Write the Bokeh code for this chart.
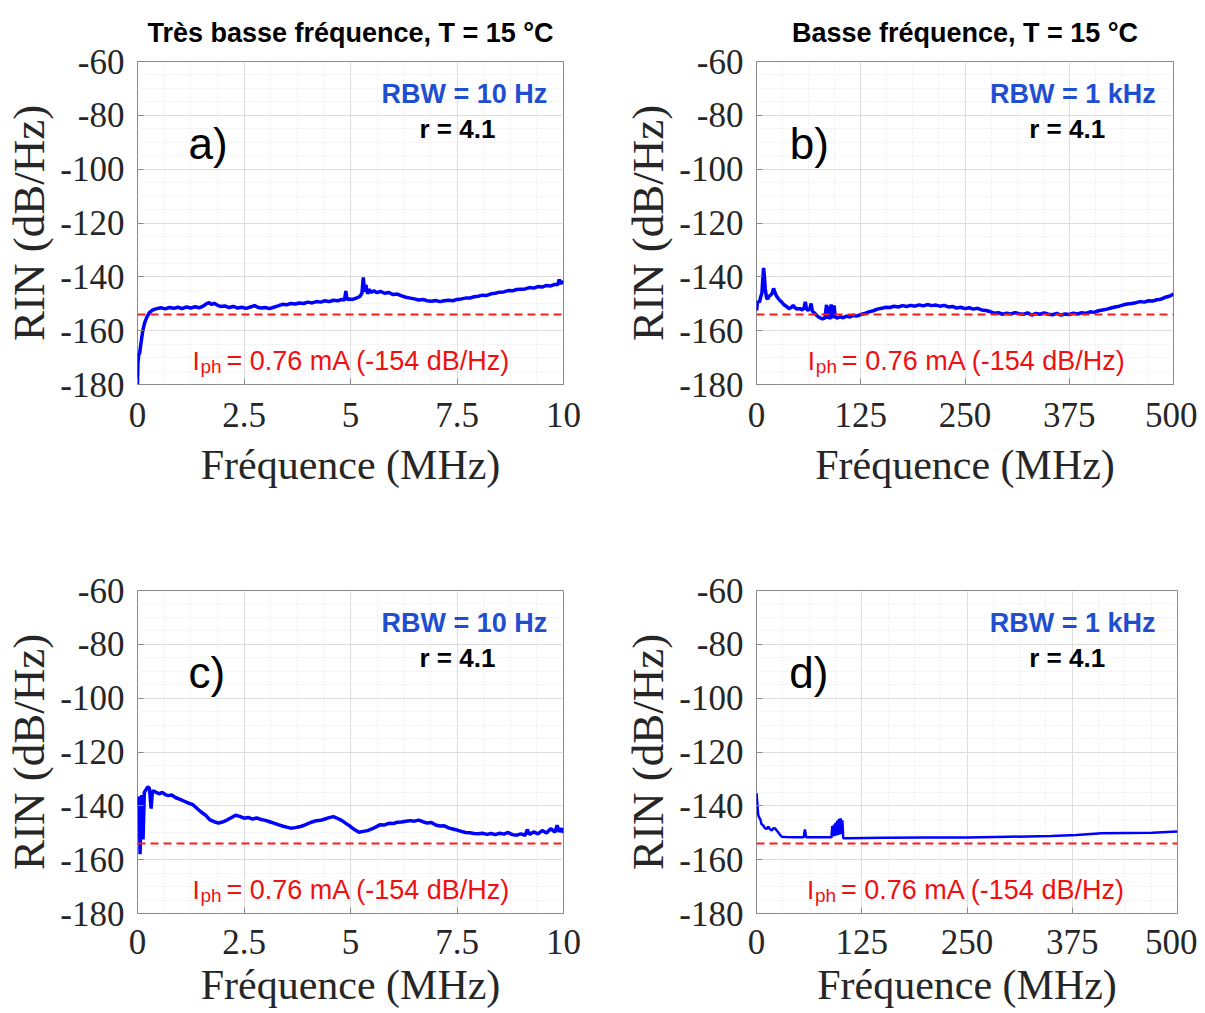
from bokeh.plotting import figure
from bokeh.layouts import column, row
from bokeh.models import FixedTicker, Label, Span
from bokeh.embed import file_html
from bokeh.resources import INLINE

# ---------------- data ----------------
freq_a = [0, 0.01, 0.03, 0.05, 0.07, 0.1, 0.13, 0.17, 0.22, 0.28, 0.35, 0.45, 0.55, 0.65, 0.75, 0.85, 0.95,
          1.05, 1.15, 1.25, 1.35, 1.45, 1.55, 1.62, 1.68, 1.74, 1.8, 1.88, 1.95, 2.05, 2.15, 2.25, 2.35, 2.45,
          2.55, 2.65, 2.75, 2.82, 2.9, 3.0, 3.1, 3.2, 3.3, 3.4, 3.5, 3.6, 3.7, 3.8, 3.9, 4.0, 4.1, 4.2, 4.3,
          4.4, 4.5, 4.6, 4.7, 4.8, 4.86, 4.89, 4.92, 4.96, 5.05, 5.15, 5.22, 5.27, 5.3, 5.33, 5.36, 5.4, 5.44,
          5.48, 5.55, 5.62, 5.7, 5.8, 5.9, 6.0, 6.1, 6.2, 6.3, 6.4, 6.5, 6.6, 6.7, 6.8, 6.9, 7.0, 7.1, 7.2,
          7.3, 7.4, 7.5, 7.6, 7.7, 7.8, 7.9, 8.0, 8.1, 8.2, 8.3, 8.4, 8.5, 8.6, 8.7, 8.8, 8.9, 9.0, 9.1, 9.2,
          9.3, 9.4, 9.5, 9.6, 9.7, 9.8, 9.86, 9.9, 9.94, 9.97, 10.0]
rin_a = [-180, -172, -168.8, -168.5, -166, -162.5, -159.5, -157, -155, -153.3, -152.4, -151.8, -151.5, -151.9,
         -151.4, -151.7, -151.3, -151.8, -151.2, -151.6, -151.1, -151.5, -150.8, -150.0, -149.6, -150.3, -149.8,
         -150.6, -151.0, -150.8, -151.4, -151.0, -151.6, -151.3, -151.7, -151.2, -150.7, -151.3, -151.6, -151.4,
         -151.8, -151.3, -150.8, -150.2, -150.4, -149.9, -150.1, -149.7, -149.9, -149.4, -149.7, -149.2, -149.4,
         -148.9, -149.2, -148.7, -148.9, -148.4, -148.6, -145.3, -148.5, -148.2, -148.4, -147.8, -147.3, -146.0,
         -140.2, -145.5, -143.0, -146.3, -144.6, -145.8, -145.2, -145.9, -145.4, -146.1, -145.8, -146.6, -146.4,
         -147.1, -147.6, -147.9, -148.2, -148.6, -148.4, -148.9, -149.1, -148.8, -149.2, -148.9, -148.7, -148.9,
         -148.4, -148.2, -147.9, -147.9, -147.4, -147.2, -146.8, -146.9, -146.3, -146.1, -145.7, -145.6, -145.1,
         -145.2, -144.7, -144.6, -144.5, -144.0, -144.2, -143.6, -143.8, -143.2, -143.4, -142.8, -143.0, -141.0,
         -142.6, -141.8, -142.2]

freq_b = [0, 1, 2, 3.5, 5, 6.5, 7.5, 8.5, 9.5, 10.5, 12, 13.5, 15, 17, 19, 20.5, 21.5, 23, 25, 27.5, 30, 33, 36,
          39, 42, 44, 46, 49, 52, 55, 57, 58.5, 60, 62, 64, 65.5, 67, 70, 73, 76, 79, 82, 84, 85, 86.5, 88, 89.5,
          91, 93, 94.5, 97, 100, 104, 108, 112, 116, 120, 125, 130, 135, 140, 145, 150, 155, 160, 165, 170, 175,
          180, 185, 190, 195, 200, 205, 210, 215, 220, 225, 230, 235, 240, 245, 250, 255, 260, 265, 270, 275,
          280, 285, 290, 295, 300, 305, 310, 315, 320, 325, 330, 335, 340, 345, 350, 355, 360, 365, 370, 375,
          380, 385, 390, 395, 400, 405, 410, 415, 420, 425, 430, 435, 440, 445, 450, 455, 460, 465, 470, 475,
          480, 485, 490, 495, 500]
rin_b = [-152.5, -150, -149, -149.5, -147.5, -146, -141, -136.7, -140, -144.5, -147.8, -148.2, -147.2, -146.8,
         -146, -144.3, -145.2, -146.5, -147.6, -148.6, -149.3, -150.4, -151, -151.8, -151.3, -150.6, -151.5, -152,
         -151.8, -152.3, -151.5, -149.3, -152, -152.4, -151.8, -149.9, -152.8, -153.6, -154.6, -155.2, -155.6,
         -155.3, -150.4, -155.6, -151, -155.8, -150.2, -155.4, -150.6, -155.0, -155.3, -154.8, -155.2, -154.6,
         -154.9, -154.3, -154.6, -154.0, -153.6, -153.0, -152.6, -152.0, -151.7, -151.3, -151.4, -150.9, -151.2,
         -150.7, -151.0, -150.6, -150.9, -150.4, -150.8, -150.3, -150.7, -150.5, -150.9, -150.6, -151.2, -151.0,
         -151.6, -151.3, -151.8, -151.5, -152.0, -151.7, -152.3, -152.5, -152.9, -153.5, -153.3, -153.9, -153.5,
         -153.8, -153.3, -153.7, -153.9, -153.4, -154.2, -153.6, -153.9, -153.4, -153.9, -154.1, -153.6, -154.2,
         -153.8, -154.0, -153.5, -153.8, -153.3, -153.6, -153.0, -153.2, -152.6, -152.3, -152.0, -151.6, -151.2,
         -150.9, -150.4, -150.1, -149.9, -149.6, -149.2, -149.4, -148.9, -149.0, -148.5, -148.3, -147.6, -147.2,
         -146.4]

freq_c = [0, 0.02, 0.04, 0.06, 0.08, 0.1, 0.13, 0.16, 0.2, 0.24, 0.28, 0.32, 0.35, 0.4, 0.46, 0.52, 0.58, 0.65,
          0.72, 0.8, 0.9, 1.0, 1.1, 1.2, 1.3, 1.4, 1.5, 1.6, 1.7, 1.8, 1.9, 2.0, 2.1, 2.2, 2.3, 2.4, 2.5, 2.6,
          2.7, 2.8, 2.9, 3.0, 3.1, 3.2, 3.3, 3.4, 3.5, 3.6, 3.7, 3.8, 3.9, 4.0, 4.1, 4.2, 4.3, 4.4, 4.5, 4.6,
          4.7, 4.8, 4.9, 5.0, 5.1, 5.2, 5.3, 5.4, 5.5, 5.6, 5.7, 5.8, 5.9, 6.0, 6.1, 6.2, 6.3, 6.4, 6.5, 6.6,
          6.7, 6.8, 6.9, 7.0, 7.1, 7.2, 7.3, 7.4, 7.5, 7.6, 7.7, 7.8, 7.9, 8.0, 8.1, 8.2, 8.3, 8.4, 8.5, 8.6,
          8.7, 8.8, 8.9, 9.0, 9.1, 9.15, 9.2, 9.3, 9.4, 9.5, 9.6, 9.7, 9.8, 9.85, 9.9, 9.95, 10.0]
rin_c = [-137, -140, -136.5, -158, -145, -136, -152.5, -135, -134, -133, -133.5, -141, -134.5, -134.7, -135.2,
         -135.5, -135.0, -135.8, -136.2, -136.0, -137.0, -137.6, -138.3, -139.0, -139.6, -141.0, -142.4, -143.5,
         -145.2, -145.9, -146.4, -146.0, -145.3, -144.4, -143.5, -143.9, -144.6, -144.3, -144.9, -144.5, -145.1,
         -145.4, -145.9, -146.4, -147.0, -147.5, -147.9, -148.3, -148.1, -147.8, -147.3, -146.6, -146.0, -145.5,
         -145.4, -144.9, -144.4, -144.0, -144.7, -145.5, -146.6, -147.7, -148.9, -149.8, -149.5, -149.2, -148.6,
         -147.8, -147.0, -147.1, -146.5, -146.6, -146.1, -146.0, -145.7, -145.5, -145.7, -145.3, -145.9, -146.4,
         -146.2, -147.1, -147.5, -147.4, -148.2, -148.6, -149.0, -149.5, -149.9, -150.0, -150.3, -150.4, -150.2,
         -150.6, -150.3, -150.7, -150.2, -150.5, -149.9, -150.7, -150.9, -150.4, -151.0, -148.8, -150.6, -149.7,
         -150.4, -149.2, -150.1, -148.5, -149.8, -147.2, -149.6, -148.4, -150.0]

freq_d = [0, 1, 2, 3, 4.5, 6, 8, 10, 12, 14, 16, 18, 20, 22, 24, 26, 28, 30, 35, 45, 56, 57.5, 59, 70, 80, 89,
          90, 91, 92, 93, 94, 95, 96, 97, 98, 99, 100, 101, 102, 103, 110, 150, 200, 250, 300, 350, 380, 410,
          440, 470, 500]
rin_d = [-135.3, -139, -143.3, -144.2, -145, -146.8, -147.3, -148.3, -148.6, -147.8, -148.7, -149.1, -148.4,
         -148.3, -149.2, -149.9, -150.8, -151.5, -151.6, -151.7, -151.7, -148.8, -151.7, -151.7, -151.7, -151.7,
         -147.5, -151.4, -147.0, -151.2, -146.2, -151.0, -145.5, -150.8, -144.8, -150.6, -144.6, -150.4, -145.4,
         -152.0, -152.0, -151.9, -151.8, -151.8, -151.5, -151.2, -150.8, -150.2, -150.1, -150.0, -149.5]

iph_level = -154
y_ticks = [-180, -160, -140, -120, -100, -80, -60]
y_tick_labels = ["-180", "-160", "-140", "-120", "-100", "-80", "-60"]
x_ticks_low = [0, 2.5, 5, 7.5, 10]
x_tick_labels_low = ["0", "2.5", "5", "7.5", "10"]
x_ticks_high = [0, 125, 250, 375, 500]
x_tick_labels_high = ["0", "125", "250", "375", "500"]
titles = ["Très basse fréquence, T = 15 °C", "Basse fréquence, T = 15 °C"]
rbw_texts = ["RBW = 10 Hz", "RBW = 1 kHz"]
ratio_text = "r = 4.1"
iph_text = "= 0.76 mA (-154 dB/Hz)"
letters = ["a)", "b)", "c)", "d)"]

SERIF = "Liberation Serif"
SANS = "Liberation Sans"
AX_COLOR = "#262626"


def panel(freq, rin, xmax, xticks, xlabels, title, rbw, letter, width, height,
          bl, br, bt, bb, lw, rbw_x, r_x, letter_x, iph_x, tick_stand, lab_stand):
    p = figure(width=width, height=height, x_range=(0, xmax), y_range=(-180, -60),
               output_backend="svg", toolbar_location=None,
               min_border_left=bl, min_border_right=br, min_border_top=bt, min_border_bottom=bb)
    p.background_fill_color = "white"
    p.border_fill_color = "white"
    p.outline_line_color = "#8a8a8a"
    p.outline_line_width = 1

    step = xticks[1] - xticks[0]
    xminor = [xticks[0] + i * step / 4 for i in range(4 * (len(xticks) - 1) + 1)]
    yminor = [-180 + 5 * i for i in range(25)]
    p.xaxis.ticker = FixedTicker(ticks=xticks, minor_ticks=xminor)
    p.yaxis.ticker = FixedTicker(ticks=y_ticks, minor_ticks=yminor)
    p.xaxis.major_label_overrides = dict(zip(xticks, xlabels))
    p.yaxis.major_label_overrides = dict(zip(y_ticks, y_tick_labels))

    for ax in (p.xaxis, p.yaxis):
        ax.axis_line_color = None
        ax.major_tick_in = 6
        ax.major_tick_out = 0
        ax.major_tick_line_color = "#8a8a8a"
        ax.minor_tick_line_color = None
        ax.major_label_text_font = SERIF
        ax.major_label_text_font_size = "35px"
        ax.major_label_text_color = AX_COLOR
        ax.axis_label_text_font = SERIF
        ax.axis_label_text_font_style = "normal"
        ax.axis_label_text_color = AX_COLOR
    p.xaxis.axis_label = "Fréquence (MHz)"
    p.yaxis.axis_label = "RIN (dB/Hz)"
    p.xaxis.axis_label_text_font_size = "42px"
    p.yaxis.axis_label_text_font_size = "45px"
    p.xaxis.major_label_standoff = tick_stand
    p.yaxis.major_label_standoff = 9
    p.xaxis.axis_label_standoff = lab_stand
    p.yaxis.axis_label_standoff = 3

    for g in (p.xgrid, p.ygrid):
        g.grid_line_color = "#dedede"
        g.grid_line_width = 1
        g.minor_grid_line_color = "#e2e2e2"
        g.minor_grid_line_dash = "1 2"
        g.minor_grid_line_width = 1

    if title:
        p.title.text = title
        p.title.align = "center"
        p.title.text_font = SANS
        p.title.text_font_style = "bold"
        p.title.text_font_size = "27px"
        p.title.text_color = "black"
        p.title.standoff = 28

    p.line(freq, rin, line_color="#0000ff", line_width=lw)
    p.add_layout(Span(location=iph_level, dimension="width", line_color="#ff1a1a",
                      line_dash="8 5", line_width=2))

    p.add_layout(Label(x=rbw_x, y=-72, text=rbw, text_align="right", text_baseline="middle",
                       text_font=SANS, text_font_style="bold", text_font_size="27px",
                       text_color="#1f4fd0"))
    p.add_layout(Label(x=r_x, y=-85, text=ratio_text, text_align="right", text_baseline="middle",
                       text_font=SANS, text_font_style="bold", text_font_size="26px",
                       text_color="black"))
    p.add_layout(Label(x=letter_x, y=-90.5, text=letter, text_align="left", text_baseline="middle",
                       text_font=SANS, text_font_size="44px", text_color="black"))
    p.add_layout(Label(x=iph_x, y=-171.3, text="I", text_align="left", text_baseline="alphabetic",
                       text_font=SANS, text_font_size="26px", text_color="#ee1111"))
    p.add_layout(Label(x=iph_x, y=-171.3, x_offset=8, y_offset=-5, text="ph", text_align="left",
                       text_baseline="alphabetic", text_font=SANS, text_font_size="19px",
                       text_color="#ee1111"))
    p.add_layout(Label(x=iph_x, y=-171.3, x_offset=34, text=iph_text, text_align="left",
                       text_baseline="alphabetic", text_font=SANS, text_font_size="27px",
                       text_color="#ee1111"))
    return p


pa = panel(freq_a, rin_a, 10, x_ticks_low, x_tick_labels_low, titles[0], rbw_texts[0], letters[0],
           620, 540, 137, 57, 61, 156, 3.5, 9.62, 8.4, 1.2, 1.29, 14, 12)
pb = panel(freq_b, rin_b, 500, x_ticks_high, x_tick_labels_high, titles[1], rbw_texts[1], letters[1],
           577, 540, 131, 24, 61, 156, 3.5, 478.7, 418, 40, 61.6, 14, 12)
pc = panel(freq_c, rin_c, 10, x_ticks_low, x_tick_labels_low, None, rbw_texts[0], letters[2],
           620, 470, 137, 57, 50, 96, 3.5, 9.62, 8.4, 1.2, 1.29, 12, 5)
pd = panel(freq_d, rin_d, 500, x_ticks_high, x_tick_labels_high, None, rbw_texts[1], letters[3],
           577, 470, 132, 20, 50, 96, 2.5, 474, 414, 38.8, 60, 12, 5)

layout = column(row(pa, pb), row(pc, pd))
open("out.html", "w").write(file_html(layout, INLINE))
